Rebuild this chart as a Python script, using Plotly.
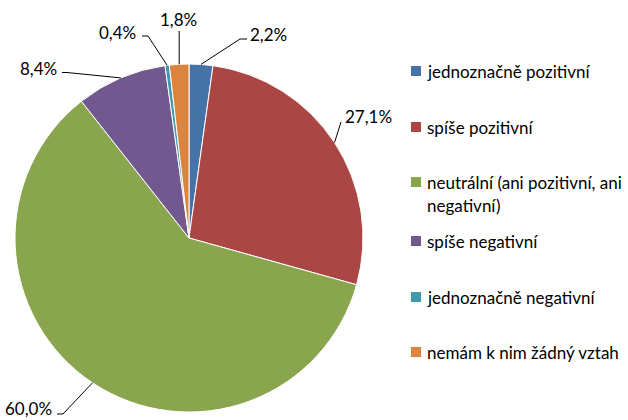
import math
import plotly.graph_objects as go

# ---- data ----
categories = [
    "jednoznačně pozitivní",
    "spíše pozitivní",
    "neutrální (ani pozitivní, ani negativní)",
    "spíše negativní",
    "jednoznačně negativní",
    "nemám k nim žádný vztah",
]
values = [2.2, 27.1, 60.0, 8.4, 0.4, 1.8]
colors = ["#4572A7", "#AA4643", "#89A54E", "#71588F", "#4198AF", "#DB843D"]

# legend text lines (wrapped like the original)
legend_lines = [
    ["jednoznačně pozitivní"],
    ["spíše pozitivní"],
    ["neutrální (ani pozitivní, ani", "negativní)"],
    ["spíše negativní"],
    ["jednoznačně negativní"],
    ["nemám k nim žádný vztah"],
]

# ---- layout constants (pixels) ----
W, H = 628, 420
CX, CY, R = 189, 238, 174
FONT = "Lato"
FS = 17

# leader-line geometry per label: bend points after the slice edge, text position, anchor
label_layout = [
    dict(pts=[(240, 39), (247, 39)], tx=248, ty=34, anchor="left"),
    dict(pts=[(None, 31)], tx=178.5, ty=19, anchor="center"),
    dict(pts=[(148, 36), (142, 36)], tx=138, ty=32, anchor="right"),
    dict(pts=[(67, 72.5), (62, 72.5)], tx=59, ty=68.5, anchor="right"),
    dict(pts=[(341, 122)], tx=343, ty=116.5, anchor="left"),
    dict(pts=[(63, 414), (57, 414)], tx=54, ty=408, anchor="right"),
]
label_order = [0, 5, 4, 3, 1, 2]  # maps label_layout rows to slice index

legend_x_box, legend_x_text = 411, 425
legend_y = [71, 127, 182, 241, 297, 352]
line_gap = 23

def fmt(v):
    return f"{v:.1f}".replace(".", ",") + "%"

fig = go.Figure()
fig.add_trace(go.Pie(
    labels=categories,
    values=values,
    sort=False,
    direction="clockwise",
    rotation=0,
    textinfo="none",
    hoverinfo="label+percent",
    marker=dict(colors=colors, line=dict(color="white", width=1)),
    domain=dict(x=[(CX - R) / W, (CX + R) / W], y=[1 - (CY + R) / H, 1 - (CY - R) / H]),
    showlegend=False,
))

# invisible pixel-coordinate axes for annotations / shapes
fig.add_trace(go.Scatter(x=[0, W], y=[0, H], mode="markers", marker=dict(opacity=0),
                         hoverinfo="skip", showlegend=False))

total = sum(values)
cum = 0.0
mids = []
for v in values:
    mids.append((cum + v / 2) / total * 2 * math.pi)
    cum += v

shapes = []
annotations = []
for row, idx in zip(label_layout, label_order):
    a = mids[idx]
    ex, ey = CX + R * math.sin(a), CY - R * math.cos(a)
    path = f"M{ex:.1f},{ey:.1f}"
    for (px, py) in row["pts"]:
        px = ex if px is None else px
        path += f" L{px:.1f},{py}"
    shapes.append(dict(type="path", path=path, xref="x", yref="y",
                       line=dict(color="black", width=1)))
    annotations.append(dict(x=row["tx"], y=row["ty"], xref="x", yref="y",
                            text=fmt(values[idx]), showarrow=False,
                            xanchor=row["anchor"], yanchor="middle",
                            font=dict(family=FONT, size=FS, color="black")))

for i, lines in enumerate(legend_lines):
    y0 = legend_y[i]
    shapes.append(dict(type="rect", xref="x", yref="y",
                       x0=legend_x_box, x1=legend_x_box + 10, y0=y0 - 5, y1=y0 + 5,
                       fillcolor=colors[i], line=dict(width=0)))
    for j, t in enumerate(lines):
        annotations.append(dict(x=legend_x_text, y=y0 + j * line_gap, xref="x", yref="y",
                                text=t, showarrow=False, xanchor="left", yanchor="middle",
                                font=dict(family=FONT, size=FS, color="black")))

fig.update_layout(
    width=W, height=H,
    margin=dict(l=0, r=0, t=0, b=0),
    paper_bgcolor="white", plot_bgcolor="rgba(0,0,0,0)",
    xaxis=dict(range=[0, W], visible=False, fixedrange=True),
    yaxis=dict(range=[H, 0], visible=False, fixedrange=True),
    shapes=shapes, annotations=annotations,
    showlegend=False,
)

fig.write_html("out.html", config={"displayModeBar": False},
               post_script="document.body.style.margin='0';")
